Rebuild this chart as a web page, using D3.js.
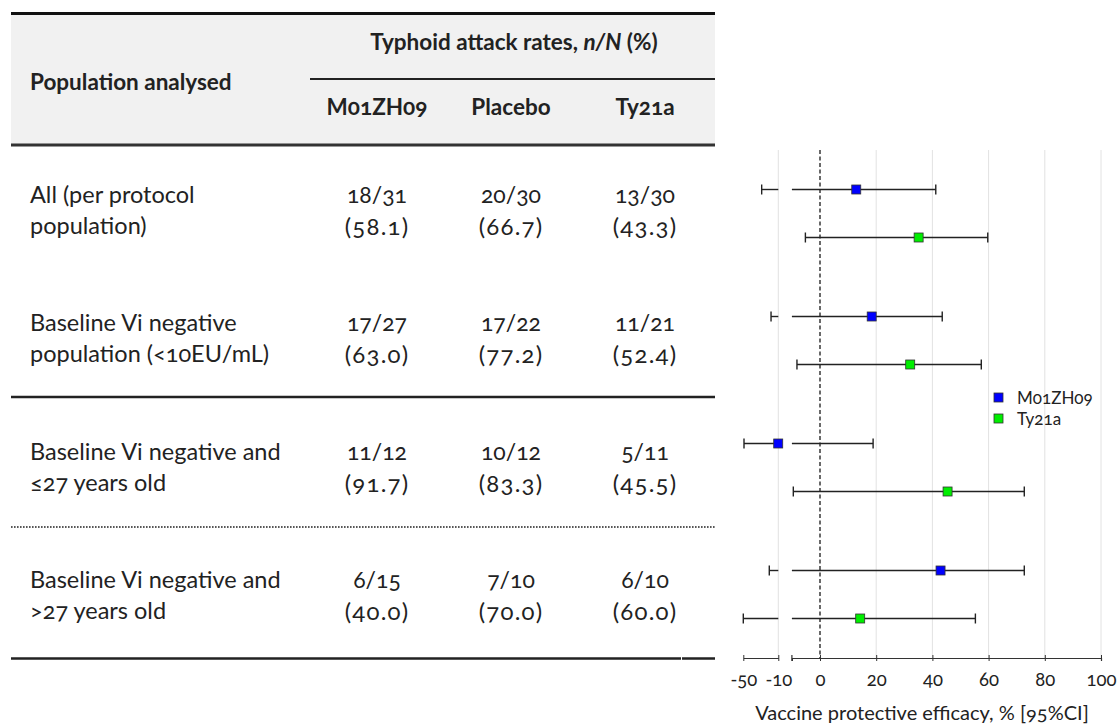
<!DOCTYPE html>
<html>
<head>
<meta charset="utf-8">
<script src="https://cdn.jsdelivr.net/npm/d3@7"></script>
<style>
  html, body { margin: 0; padding: 0; background: #fff; }
  svg { display: block; font-family: Lato, "Open Sans", sans-serif; font-variant-numeric: oldstyle-nums; font-feature-settings: "onum" 1; }
</style>
</head>
<body>
<svg id="chart" width="1118" height="724"></svg>
<script>
// ---------------- data ----------------
const populations = [
  ["All (per protocol", "population)"],
  ["Baseline Vi negative", "population (<10EU/mL)"],
  ["Baseline Vi negative and", "\u226427 years old"],
  ["Baseline Vi negative and", ">27 years old"]
];
const arms = ["M01ZH09", "Placebo", "Ty21a"];
const attackCounts = [
  ["18/31", "20/30", "13/30"],
  ["17/27", "17/22", "11/21"],
  ["11/12", "10/12", "5/11"],
  ["6/15", "7/10", "6/10"]
];
const attackPercents = [
  ["(58.1)", "(66.7)", "(43.3)"],
  ["(63.0)", "(77.2)", "(52.4)"],
  ["(91.7)", "(83.3)", "(45.5)"],
  ["(40.0)", "(70.0)", "(60.0)"]
];
const series = ["M01ZH09", "Ty21a"];
const seriesColors = ["#0000ff", "#00ee00"];
const efficacyM01 = [12.9, 18.4, -10.1, 42.9];
const lowerM01 = [-29, -18.3, -49.2, -20.3];
const upperM01 = [41.2, 43.5, 18.9, 72.7];
const efficacyTy = [35.1, 32.1, 45.4, 14.3];
const lowerTy = [-5.2, -8.2, -9.5, -50];
const upperTy = [59.7, 57.4, 72.7, 55.3];
const ticksLeft = [-50, -10];
const ticksRight = [0, 20, 40, 60, 80, 100];
const tableTitle = "Typhoid attack rates, ";
const axisTitle = "Vaccine protective efficacy, % [95%CI]";

// ---------------- setup ----------------
const svg = d3.select("#chart");
const ink = "#222";
const tblL = 11, tblR = 715;
const colX = d3.scalePoint().domain(arms).range([377, 645]);

// header background
svg.append("rect").attr("x", tblL).attr("y", 13).attr("width", tblR - tblL).attr("height", 132).attr("fill", "#f1f1f1");
// rules
const rule = (x1, x2, y, w, dash, col) => svg.append("line").attr("x1", x1).attr("x2", x2).attr("y1", y).attr("y2", y)
  .attr("stroke", col || "#111").attr("stroke-width", w).attr("stroke-dasharray", dash || null);
rule(tblL, tblR, 13.5, 3);
rule(310, tblR, 79, 2.2, null, "#222");
rule(tblL, tblR, 145, 3, null, "#333");
rule(tblL, tblR, 397, 2.6, null, "#222");
rule(tblL, tblR, 527, 1.6, "1.6,1.4", "#222");
rule(tblL, 681, 658.5, 2.6, null, "#222");
rule(682, tblR, 658.5, 2.6, null, "#222");

// header text
const head = svg.append("g").attr("fill", ink).attr("font-weight", "bold").attr("font-size", 22.5);
head.append("text").attr("x", 30).attr("y", 90).text("Population analysed");
const tt = head.append("text").attr("x", 514).attr("y", 50).attr("text-anchor", "middle");
tt.append("tspan").text(tableTitle);
tt.append("tspan").attr("font-style", "italic").text("n/N");
tt.append("tspan").text(" (%)");
head.selectAll("text.arm").data(arms).join("text").attr("class", "arm")
  .attr("x", d => colX(d)).attr("y", 115).attr("font-size", 22.5).attr("text-anchor", "middle").text(d => d);

// body rows
const rowY = d3.scaleBand().domain(d3.range(populations.length)).range([145, 658]);
const body = svg.append("g").attr("fill", ink);
populations.forEach((lines, i) => {
  const y0 = rowY(i) + 58;
  lines.forEach((t, k) => body.append("text").attr("x", 30).attr("y", y0 + k * 31).attr("font-size", 23.5).text(t));
  arms.forEach((a, j) => {
    body.append("text").attr("x", colX(a)).attr("y", y0).attr("font-size", 23).attr("text-anchor", "middle").text(attackCounts[i][j]);
    body.append("text").attr("x", colX(a)).attr("y", y0 + 32).attr("font-size", 24).attr("letter-spacing", 1.2)
      .attr("text-anchor", "middle").text(attackPercents[i][j]);
  });
});

// ---------------- forest plot ----------------
const plotTop = 150, plotBot = 658;
const xL = d3.scaleLinear().domain([-50, -10]).range([743.3, 778.3]);
const xR = d3.scaleLinear().domain([-10, 100]).range([791.9, 1101]);
const xPos = v => v < -10 ? xL(v) : xR(v);
const yG = d3.scaleBand().domain(d3.range(populations.length)).range([plotTop, plotBot]);
const ySub = d3.scalePoint().domain(series).range([-24, 24]);

const plot = svg.append("g");
// gridlines
plot.selectAll("line.gl").data([-10]).join("line").attr("class", "gl")
  .attr("x1", d => xL(d)).attr("x2", d => xL(d)).attr("y1", plotTop).attr("y2", plotBot)
  .attr("stroke", "#e2e2e2").attr("stroke-width", 1);
plot.selectAll("line.gr").data(ticksRight.filter(d => d !== 0)).join("line").attr("class", "gr")
  .attr("x1", d => xR(d)).attr("x2", d => xR(d)).attr("y1", plotTop).attr("y2", plotBot)
  .attr("stroke", "#e2e2e2").attr("stroke-width", 1);
// zero line
plot.append("line").attr("x1", xR(0)).attr("x2", xR(0)).attr("y1", plotTop).attr("y2", plotBot)
  .attr("stroke", "#444").attr("stroke-width", 1.6).attr("stroke-dasharray", "4,2.5");

// axes
const axL = d3.axisBottom(xL).tickValues(ticksLeft).tickSizeInner(3).tickSizeOuter(0).tickFormat(d3.format("d"));
const axR = d3.axisBottom(xR).tickValues(ticksRight).tickSizeInner(3).tickSizeOuter(3).tickFormat(d3.format("d"));
[axL, axR].forEach(ax => {
  const g = plot.append("g").attr("transform", `translate(0,${plotBot})`).call(ax);
  g.select(".domain").attr("stroke", "#333").attr("stroke-width", 1.2);
  g.selectAll(".tick line").attr("stroke", "#333").attr("y1", -3).attr("y2", 3);
  g.selectAll(".tick text").attr("fill", ink).attr("font-size", 18.5).attr("dy", 0).attr("y", 28)
    .attr("font-family", "Lato, sans-serif").text(d => d < 0 ? "-" + Math.abs(d) : d);
});
// mark left end of right segment
plot.append("line").attr("x1", xR(-10)).attr("x2", xR(-10)).attr("y1", plotBot - 3).attr("y2", plotBot + 3).attr("stroke", "#333").attr("stroke-width", 1.2);

plot.append("text").attr("x", 922).attr("y", 720).attr("text-anchor", "middle").attr("fill", ink)
  .attr("font-size", 20).text(axisTitle);

// error bars and points
const rows = [];
series.forEach((s, si) => {
  const est = si === 0 ? efficacyM01 : efficacyTy;
  const lo = si === 0 ? lowerM01 : lowerTy;
  const hi = si === 0 ? upperM01 : upperTy;
  est.forEach((v, i) => rows.push({ s, si, i, v, lo: lo[i], hi: hi[i] }));
});
const ePos = d => yG(d.i) + yG.bandwidth() / 2 + ySub(d.s);
const bars = plot.append("g").attr("stroke", "#222").attr("stroke-width", 1.4).attr("fill", "none");
rows.forEach(d => {
  const y = ePos(d);
  if (d.lo < -10) {
    bars.append("line").attr("x1", xL(d.lo)).attr("x2", xL(-10)).attr("y1", y).attr("y2", y);
    bars.append("line").attr("x1", xR(-10)).attr("x2", xR(d.hi)).attr("y1", y).attr("y2", y);
  } else {
    bars.append("line").attr("x1", xR(d.lo)).attr("x2", xR(d.hi)).attr("y1", y).attr("y2", y);
  }
  [xPos(d.lo), xPos(d.hi)].forEach(x => bars.append("line").attr("x1", x).attr("x2", x).attr("y1", y - 5).attr("y2", y + 5));
});
const sq = 9;
plot.selectAll("rect.pt").data(rows).join("rect").attr("class", "pt")
  .attr("x", d => xPos(d.v) - sq / 2).attr("y", d => ePos(d) - sq / 2)
  .attr("width", sq).attr("height", sq)
  .attr("fill", d => seriesColors[d.si]).attr("stroke", "#333").attr("stroke-width", 0.8);

// legend
const leg = svg.append("g").attr("font-size", 17).attr("fill", ink);
series.forEach((s, k) => {
  const y = 397.5 + k * 21;
  leg.append("rect").attr("x", 998.5 - 4.5).attr("y", y - 4.5).attr("width", 9).attr("height", 9)
    .attr("fill", seriesColors[k]).attr("stroke", "#333").attr("stroke-width", 0.8);
  leg.append("text").attr("x", 1017).attr("y", y + 6).text(s);
});
</script>
</body>
</html>
